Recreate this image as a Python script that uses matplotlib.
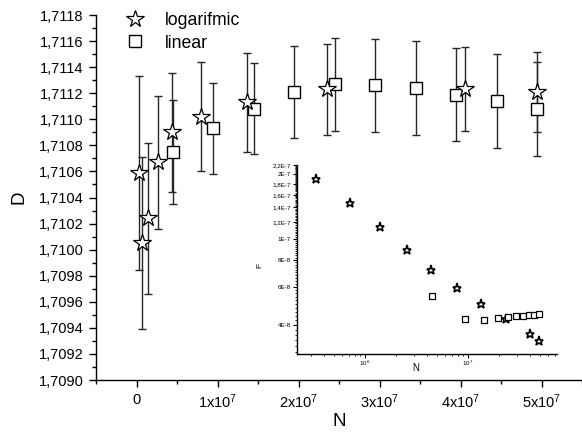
import matplotlib
matplotlib.use('agg')
import matplotlib.pyplot as plt
from matplotlib.lines import Line2D
from matplotlib.ticker import FixedLocator, FixedFormatter, MultipleLocator, LogLocator, NullFormatter
import numpy as np

plt.rcParams['font.family'] = ['Liberation Sans', 'DejaVu Sans']
plt.rcParams['mathtext.default'] = 'regular'

# main chart: D(N) with error bars
n_log = [3.4e5, 7.2e5, 1.4e6, 2.6e6, 4.4e6, 7.9e6, 1.36e7, 2.35e7, 4.05e7, 4.95e7]
d_log = [1.71059, 1.71005, 1.71024, 1.71067, 1.71090, 1.71102, 1.71113, 1.71123, 1.71123, 1.71121]
e_log = [0.000745, 0.00066, 0.00058, 0.00051, 0.000456, 0.000418, 0.00038, 0.00035, 0.000322, 0.00031]

n_lin = [4.5e6, 9.5e6, 1.45e7, 1.95e7, 2.45e7, 2.95e7, 3.45e7, 3.95e7, 4.45e7, 4.95e7]
d_lin = [1.71075, 1.71093, 1.71108, 1.71121, 1.71127, 1.71126, 1.71124, 1.71119, 1.71114, 1.71108]
e_lin = [0.000399, 0.000352, 0.000349, 0.000351, 0.000356, 0.000356, 0.000357, 0.000357, 0.000358, 0.00036]

# inset: F(N), log-log
f_log = [1.89e-7, 1.46e-7, 1.14e-7, 8.89e-8, 7.21e-8, 5.94e-8, 4.98e-8, 4.25e-8, 3.61e-8, 3.37e-8]
f_lin = [5.46e-8, 4.27e-8, 4.19e-8, 4.28e-8, 4.37e-8, 4.39e-8, 4.39e-8, 4.42e-8, 4.43e-8, 4.47e-8]

x_ticks = [0, 1e7, 2e7, 3e7, 4e7, 5e7]
x_labels = ['0'] + [r'$%dx10^{7}$' % k for k in range(1, 6)]
y_ticks = np.arange(1.7090, 1.71181, 0.0002)
y_labels = [('%.4f' % v).replace('.', ',') for v in y_ticks]

in_y_ticks = [4e-8, 6e-8, 8e-8, 1e-7, 1.2e-7, 1.4e-7, 1.6e-7, 1.8e-7, 2e-7, 2.2e-7]
in_y_labels = ['4E-8', '6E-8', '8E-8', '1E-7', '1,2E-7', '1,4E-7', '1,6E-7', '1,8E-7', '2E-7', '2,2E-7']

fig = plt.figure(figsize=(5.82, 4.37), dpi=100)
ax = fig.add_axes([0.165, 0.1304, 0.835, 0.8352])

ebkw = dict(fmt='none', ecolor='0.15', elinewidth=1.0, capsize=3, capthick=1.0)
ax.errorbar(n_log, d_log, yerr=e_log, zorder=2, **ebkw)
ax.errorbar(n_lin, d_lin, yerr=e_lin, zorder=2, **ebkw)
ax.plot(n_lin, d_lin, ls='none', marker='s', ms=8.5, mfc='white', mec='black', mew=1.0, zorder=3)
ax.plot(n_log, d_log, ls='none', marker='*', ms=13, mfc='white', mec='black', mew=0.9, zorder=4)

ax.set_xlim(-5e6, 5.5e7)
ax.set_ylim(1.7090, 1.7118)
for s in ('top', 'right'):
    ax.spines[s].set_visible(False)
for s in ('left', 'bottom'):
    ax.spines[s].set_linewidth(1.0)
ax.set_xticks(x_ticks)
ax.set_xticklabels(x_labels, fontsize=10.5)
ax.xaxis.set_minor_locator(MultipleLocator(5e6))
ax.set_yticks(y_ticks)
ax.set_yticklabels(y_labels, fontsize=10.5)
ax.yaxis.set_minor_locator(MultipleLocator(0.0001))
ax.tick_params(which='major', direction='out', length=5, width=1.0, pad=4)
ax.tick_params(which='minor', direction='out', length=3, width=1.0)
ax.set_xlabel('N', fontsize=13.5, labelpad=1.5)
ax.set_ylabel('D', fontsize=13.5, labelpad=8)

handles = [Line2D([], [], ls='none', marker='*', ms=13, mfc='white', mec='black', mew=0.9),
           Line2D([], [], ls='none', marker='s', ms=8.5, mfc='white', mec='black', mew=1.0)]
ax.legend(handles, ['logarifmic', 'linear'], loc='upper left', bbox_to_anchor=(0.217, 0.972),
          bbox_transform=fig.transFigure, frameon=False, fontsize=12.7, handlelength=1.0,
          handletextpad=1.2, borderpad=0, borderaxespad=0, labelspacing=0.3)

# inset
ins = fig.add_axes([0.5103, 0.1899, 0.4467, 0.4325])
ins.plot(n_log, f_log, ls='none', marker='*', ms=6.5, mfc='white', mec='black', mew=1.2)
ins.plot(n_lin, f_lin, ls='none', marker='s', ms=4, mfc='white', mec='black', mew=0.9)
ins.set_xscale('log')
ins.set_yscale('log')
ins.set_xlim(2.2e5, 7.36e7)
ins.set_ylim(2.93e-8, 2.2e-7)
for s in ('top', 'right'):
    ins.spines[s].set_visible(False)
for s in ('left', 'bottom'):
    ins.spines[s].set_linewidth(1.0)
ins.xaxis.set_major_locator(FixedLocator([1e6, 1e7]))
ins.xaxis.set_major_formatter(FixedFormatter([r'$10^{6}$', r'$10^{7}$']))
ins.xaxis.set_minor_locator(LogLocator(base=10, subs=np.arange(2, 10)))
ins.xaxis.set_minor_formatter(NullFormatter())
ins.yaxis.set_major_locator(FixedLocator(in_y_ticks))
ins.yaxis.set_major_formatter(FixedFormatter(in_y_labels))
ins.yaxis.set_minor_locator(FixedLocator(np.arange(3e-8, 2.2e-7, 2e-9)))
ins.yaxis.set_minor_formatter(NullFormatter())
ins.tick_params(which='major', direction='out', length=3, width=0.8, pad=1.5, labelsize=4.5)
ins.tick_params(axis='x', which='major', pad=0.5)
ins.tick_params(which='minor', direction='out', length=1.5, width=0.6)
ins.set_xlabel('N', fontsize=7)
ins.xaxis.set_label_coords(0.458, -0.05)
ins.set_ylabel('F', fontsize=6)
ins.yaxis.set_label_coords(-0.131, 0.466)
ins.patch.set_alpha(0)

fig.savefig('out.png', dpi=100)
